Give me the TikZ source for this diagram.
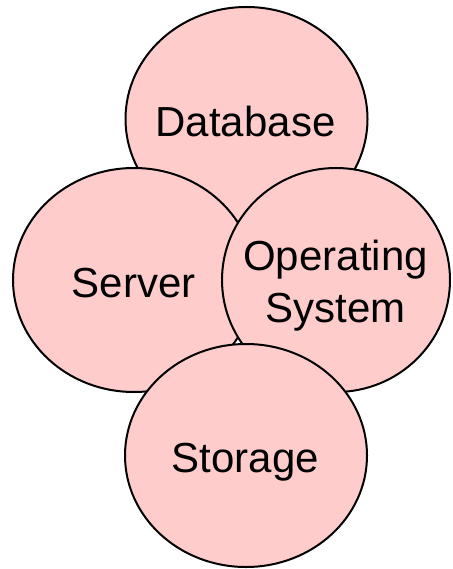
\documentclass[tikz,border=0pt]{standalone}
\usepackage{fontspec}
\setmainfont{Liberation Sans}
\usetikzlibrary{shapes.geometric}
\definecolor{petal}{HTML}{FFCCCC}
\tikzset{
  petal/.style={ellipse, draw=black, line width=2pt, fill=petal, inner sep=0pt,
    minimum width=#1},
  petal/.default=242pt,
  lbl/.style={anchor=base, inner sep=0pt, font=\fontsize{42}{52}\selectfont, align=center}
}
\begin{document}
\begin{tikzpicture}[x=1pt,y=-1pt]
\useasboundingbox (0,0) rectangle (452,569);
\node[petal, minimum height=224pt] (db) at (246.5,119) {};
\node[lbl] (dbt) at (245.5,137) {Database};
\node[petal, minimum height=224pt] (srv) at (134,280) {};
\node[lbl] (srvt) at (133.5,297) {Server};
\node[petal=228pt, minimum height=224pt] (os) at (336,280) {};
\node[lbl] (ost) at (335.5,322) {Operating\\System};
\node[petal, minimum height=223pt] (st) at (246,455.5) {};
\node[lbl] (stt) at (245.5,472) {Storage};
\end{tikzpicture}
\end{document}
